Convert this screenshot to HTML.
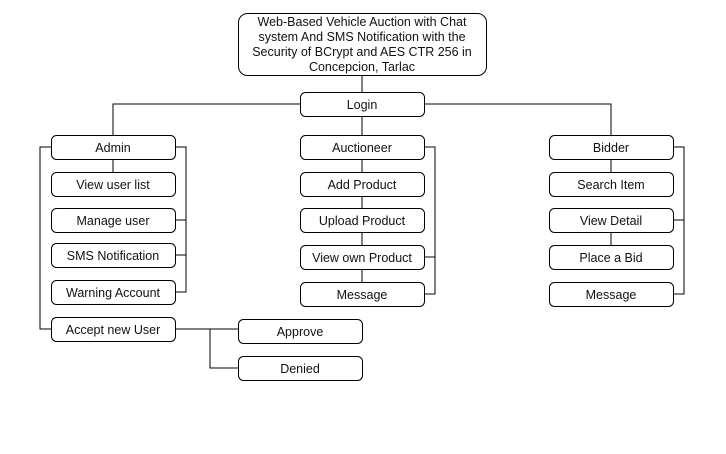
<!DOCTYPE html>
<html><head><style>
body{margin:0;background:#fff;width:726px;height:449px;overflow:hidden}
svg text{font-family:"Liberation Sans",sans-serif;font-size:12.5px;fill:#111;text-anchor:middle}
</style></head><body>
<svg width="726" height="449" viewBox="0 0 726 449">
<g fill="none" stroke="#000" stroke-width="1">
<!-- connectors -->
<path d="M362 75V92M362 116V135M300 104H113V135M424 104H611V135"/>
<path d="M113 159V172M51 147H40V329H51M175 147H186V292H175M175 220H186M175 255H186"/>
<path d="M175 329H238M210 329V368H238"/>
<path d="M362 159V172M362 196V208M362 232V245M362 269V282M424 147H435V294H424M424 257H435"/>
<path d="M611 159V172M611 232V245M673 147H684V294H673M673 220H684"/>
<!-- boxes -->
<rect x="238.5" y="13.5" width="248" height="62" rx="9"/>
<rect x="300.5" y="92.5" width="124" height="24" rx="5"/>
<rect x="51.5" y="135.5" width="124" height="24" rx="5"/>
<rect x="51.5" y="172.5" width="124" height="24" rx="5"/>
<rect x="51.5" y="208.5" width="124" height="24" rx="5"/>
<rect x="51.5" y="243.5" width="124" height="24" rx="5"/>
<rect x="51.5" y="280.5" width="124" height="24" rx="5"/>
<rect x="51.5" y="317.5" width="124" height="24" rx="5"/>
<rect x="238.5" y="319.5" width="124" height="24" rx="5"/>
<rect x="238.5" y="356.5" width="124" height="24" rx="5"/>
<rect x="300.5" y="135.5" width="124" height="24" rx="5"/>
<rect x="300.5" y="172.5" width="124" height="24" rx="5"/>
<rect x="300.5" y="208.5" width="124" height="24" rx="5"/>
<rect x="300.5" y="245.5" width="124" height="24" rx="5"/>
<rect x="300.5" y="282.5" width="124" height="24" rx="5"/>
<rect x="549.5" y="135.5" width="124" height="24" rx="5"/>
<rect x="549.5" y="172.5" width="124" height="24" rx="5"/>
<rect x="549.5" y="208.5" width="124" height="24" rx="5"/>
<rect x="549.5" y="245.5" width="124" height="24" rx="5"/>
<rect x="549.5" y="282.5" width="124" height="24" rx="5"/>
</g>
<text x="362" y="26">Web-Based Vehicle Auction with Chat</text>
<text x="362" y="41">system And SMS Notification with the</text>
<text x="362" y="56">Security of BCrypt and AES CTR 256 in</text>
<text x="362" y="71">Concepcion, Tarlac</text>
<text x="362" y="109">Login</text>
<text x="113" y="152">Admin</text>
<text x="113" y="189">View user list</text>
<text x="113" y="225">Manage user</text>
<text x="113" y="260">SMS Notification</text>
<text x="113" y="297">Warning Account</text>
<text x="113" y="334">Accept new User</text>
<text x="300" y="336">Approve</text>
<text x="300" y="373">Denied</text>
<text x="362" y="152">Auctioneer</text>
<text x="362" y="189">Add Product</text>
<text x="362" y="225">Upload Product</text>
<text x="362" y="262">View own Product</text>
<text x="362" y="299">Message</text>
<text x="611" y="152">Bidder</text>
<text x="611" y="189">Search Item</text>
<text x="611" y="225">View Detail</text>
<text x="611" y="262">Place a Bid</text>
<text x="611" y="299">Message</text>
</svg>
</body></html>
